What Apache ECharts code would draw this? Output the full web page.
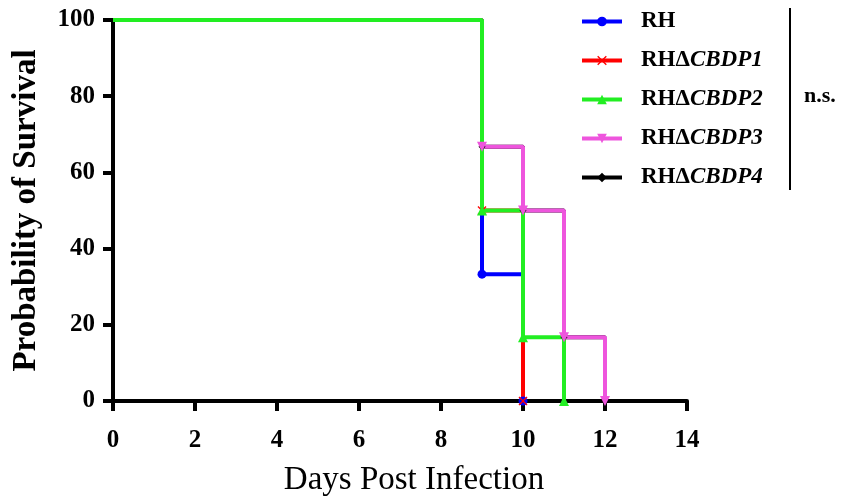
<!DOCTYPE html>
<html>
<head>
<meta charset="utf-8">
<script src="https://cdn.jsdelivr.net/npm/echarts@6/dist/echarts.min.js"></script>
<style>
  html, body { margin: 0; padding: 0; background: #fff; }
  #chart { width: 842px; height: 502px; }
</style>
</head>
<body>
<div id="chart"></div>
<script>
// 生存曲线数据（死亡日, 死亡后生存率%）
var xTicks = [0, 2, 4, 6, 8, 10, 12, 14];
var yTicks = [0, 20, 40, 60, 80, 100];
var rhDays = [9, 10];
var rhSurv = [33.3, 0];
var cbdp1Days = [9, 10];
var cbdp1Surv = [50, 0];
var cbdp2Days = [9, 10, 11];
var cbdp2Surv = [50, 16.7, 0];
var cbdp3Days = [9, 10, 11, 12];
var cbdp3Surv = [66.7, 50, 16.7, 0];
var cbdp4Days = [9, 10, 11, 12];
var cbdp4Surv = [66.7, 50, 16.7, 0];

var FONT = '"Liberation Serif", "Times New Roman", serif';
var xPath = 'path://M0,1 L1,0 L5,4 L9,0 L10,1 L6,5 L10,9 L9,10 L5,6 L1,10 L0,9 L4,5 Z';

// 阶梯线：每个事件点画标记
function steps(days, surv) {
  var pts = [{ value: [0, 100], symbol: 'none' }];
  var prev = 100;
  for (var i = 0; i < days.length; i++) {
    pts.push({ value: [days[i], prev], symbol: 'none' });
    pts.push({ value: [days[i], surv[i]] });
    prev = surv[i];
  }
  return pts;
}

function mk(name, days, surv, color, symbol, size, rotate) {
  return {
    name: name,
    type: 'line',
    data: steps(days, surv),
    symbol: symbol,
    symbolSize: size,
    symbolRotate: rotate || 0,
    showAllSymbol: true,
    lineStyle: { color: color, width: 4 },
    itemStyle: { color: color },
    animation: false
  };
}

var legendNames = ['RH', 'RHΔCBDP1', 'RHΔCBDP2', 'RHΔCBDP3', 'RHΔCBDP4'];

var option = {
  backgroundColor: '#fff',
  grid: { left: 113, right: 155, top: 20, bottom: 99 },
  legend: {
    data: legendNames,
    orient: 'vertical',
    left: 575,
    top: 5,
    itemWidth: 40,
    itemHeight: 12,
    itemGap: 16,
    lineStyle: { width: 4 },
    textStyle: {
      fontFamily: FONT, fontSize: 23, fontWeight: 'bold', color: '#000', lineHeight: 22,
      rich: {
        n: { fontFamily: FONT, fontSize: 23, fontWeight: 'bold', color: '#000', padding: [0, 0, 0, 14] },
        i: { fontFamily: FONT, fontSize: 23, fontWeight: 'bold', fontStyle: 'italic', color: '#000' }
      }
    },
    formatter: function (n) {
      if (n === 'RH') return '{n|RH}';
      return '{n|RHΔ}{i|' + n.slice(3) + '}';
    }
  },
  xAxis: {
    type: 'value',
    min: 0, max: 14, interval: 2,
    name: 'Days Post Infection',
    nameLocation: 'middle',
    nameGap: 63,
    nameTextStyle: { fontFamily: FONT, fontSize: 33, color: '#000', padding: [0, 0, 0, 28] },
    axisLine: { lineStyle: { color: '#000', width: 4 } },
    axisTick: { length: 10, lineStyle: { color: '#000', width: 4 } },
    axisLabel: { margin: 27, fontFamily: FONT, fontSize: 25, fontWeight: 'bold', color: '#000',
      formatter: function (v) { return xTicks.indexOf(v) >= 0 ? String(v) : ''; } },
    splitLine: { show: false }
  },
  yAxis: {
    type: 'value',
    min: 0, max: 100, interval: 20,
    name: 'Probability of Survival',
    nameLocation: 'middle',
    nameGap: 70,
    nameTextStyle: { fontFamily: FONT, fontSize: 33, fontWeight: 'bold', color: '#000' },
    axisLine: { show: true, lineStyle: { color: '#000', width: 4 } },
    axisTick: { show: true, length: 10, lineStyle: { color: '#000', width: 4 } },
    axisLabel: { margin: 18, fontFamily: FONT, fontSize: 25, fontWeight: 'bold', color: '#000',
      formatter: function (v) { return yTicks.indexOf(v) >= 0 ? String(v) : ''; } },
    splitLine: { show: false }
  },
  graphic: [
    { type: 'line', shape: { x1: 790, y1: 8, x2: 790, y2: 190 }, style: { stroke: '#000', lineWidth: 2 } },
    { type: 'text', left: 804, top: 85, style: { text: 'n.s.', font: 'bold 22px ' + FONT, fill: '#000' } }
  ],
  series: [
    mk('RHΔCBDP4', cbdp4Days, cbdp4Surv, '#000000', 'diamond', 7),
    mk('RH', rhDays, rhSurv, '#0000FF', 'circle', 9),
    mk('RHΔCBDP1', cbdp1Days, cbdp1Surv, '#FF0000', xPath, 9),
    mk('RHΔCBDP3', cbdp3Days, cbdp3Surv, '#EE55DD', 'triangle', 10, 180),
    mk('RHΔCBDP2', cbdp2Days, cbdp2Surv, '#22EE22', 'triangle', 10)
  ]
};

var myChart = echarts.init(document.getElementById('chart'));
myChart.setOption(option);
</script>
</body>
</html>
